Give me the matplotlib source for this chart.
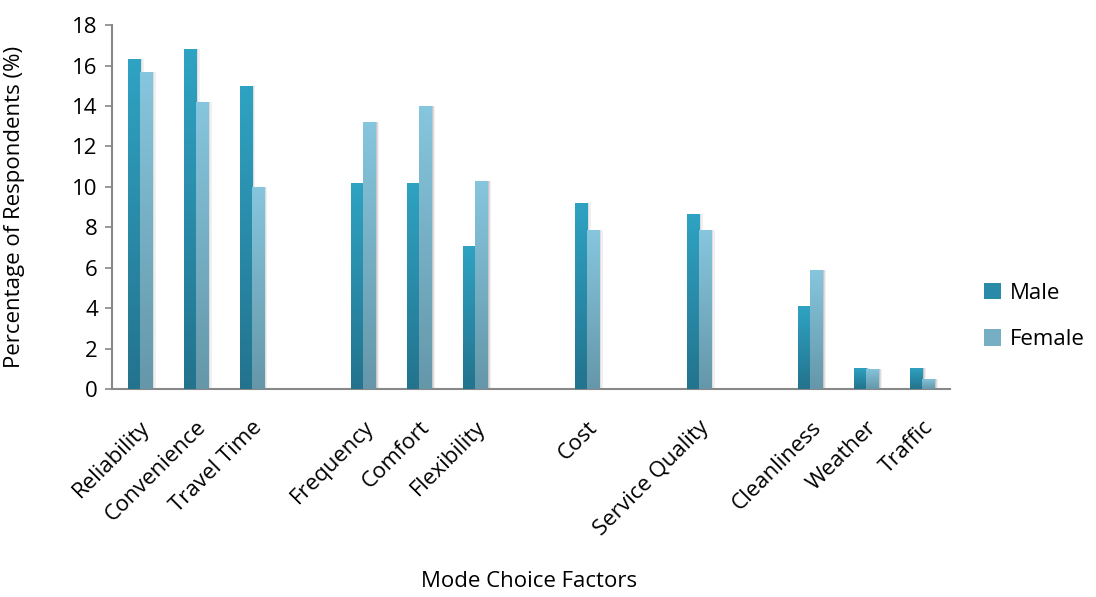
import numpy as np
import matplotlib
matplotlib.use("Agg")
import matplotlib.pyplot as plt
from matplotlib.colors import LinearSegmentedColormap
from matplotlib.patches import Patch

categories = ["Reliability", "Convenience", "Travel Time", "", "Frequency", "Comfort",
              "Flexibility", "", "Cost", "", "Service Quality", "", "Cleanliness",
              "Weather", "Traffic"]
male = [16.3, 16.8, 15.0, 0, 10.2, 10.2, 7.1, 0, 9.2, 0, 8.65, 0, 4.1, 1.05, 1.05]
female = [15.7, 14.2, 10.0, 0, 13.2, 14.0, 10.3, 0, 7.85, 0, 7.85, 0, 5.9, 1.0, 0.5]
series_names = ["Male", "Female"]
yticks = [0, 2, 4, 6, 8, 10, 12, 14, 16, 18]

plt.rcParams['font.family'] = ['Open Sans', 'DejaVu Sans']
FS = 16

fig = plt.figure(figsize=(10.96, 5.97), dpi=100)
ax = fig.add_axes([0.102, 0.348, 0.765, 0.61])

x = np.arange(len(categories))
w = 0.215
male_cmap = LinearSegmentedColormap.from_list("m", ["#23738D", "#2FA3C3"])
female_cmap = LinearSegmentedColormap.from_list("f", ["#6597A9", "#86C6DE"])
grad = np.linspace(0, 1, 256).reshape(-1, 1)

def draw(xs, vals, cmap, label):
    # soft shadow
    for k, a in [(0.07, 0.06), (0.045, 0.08), (0.025, 0.10)]:
        ax.bar(xs + k, vals, width=w, color="#000000", alpha=a, zorder=1, linewidth=0)
    bars = ax.bar(xs, vals, width=w, color=cmap(0.5), zorder=2, linewidth=0, label=label)
    for b in bars:
        h = b.get_height()
        if h <= 0:
            continue
        x0 = b.get_x()
        im = ax.imshow(grad, extent=[x0, x0 + b.get_width(), 0, h], origin="lower",
                       cmap=cmap, aspect="auto", zorder=3)
        im.set_clip_path(b)
    return bars

draw(x - w / 2, np.array(male), male_cmap, series_names[0])
draw(x + w / 2, np.array(female), female_cmap, series_names[1])

ax.set_xlim(-0.5, len(categories) - 0.5)
ax.set_ylim(0, 18)
ax.set_yticks(yticks)
ax.set_xticks(x)
ax.set_xticklabels(categories, rotation=45, ha="right", rotation_mode="anchor", fontsize=FS)
ax.tick_params(axis="x", length=0, pad=20)
ax.tick_params(axis="y", labelsize=FS, color="#888888", length=5, width=1.2, pad=5)
for s in ["top", "right"]:
    ax.spines[s].set_visible(False)
for s in ["left", "bottom"]:
    ax.spines[s].set_color("#888888")
    ax.spines[s].set_linewidth(1.5)
ax.set_ylabel("Percentage of Respondents (%)", fontsize=FS)
ax.yaxis.set_label_coords(-0.103, 0.5)
fig.text(0.483, 0.008, "Mode Choice Factors", fontsize=FS, ha="center", va="bottom")

handles = [Patch(facecolor=male_cmap(0.5)), Patch(facecolor=female_cmap(0.5))]
fig.legend(handles, series_names, loc="center left", bbox_to_anchor=(0.884, 0.47),
           frameon=False, fontsize=FS, handlelength=0.75, handleheight=0.75,
           labelspacing=1.15, handletextpad=0.4, borderaxespad=0.3)

fig.savefig("out.png", dpi=100)
